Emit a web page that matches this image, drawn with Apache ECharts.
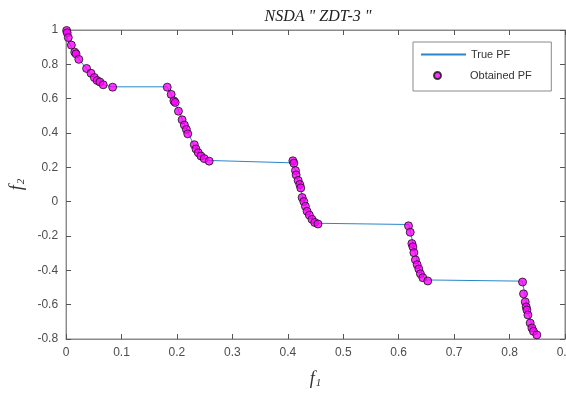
<!DOCTYPE html>
<html>
<head>
<meta charset="utf-8">
<script src="https://cdn.jsdelivr.net/npm/echarts@6/dist/echarts.min.js"></script>
<style>
  html, body { margin: 0; padding: 0; overflow: hidden; background: #fff; }
  #main { width: 600px; height: 394px; }
</style>
</head>
<body>
<div id="main"></div>
<script>
// valores
var xTicks = [0, 0.1, 0.2, 0.3, 0.4, 0.5, 0.6, 0.7, 0.8, 0.9];
var yTicks = [-0.8, -0.6, -0.4, -0.2, 0, 0.2, 0.4, 0.6, 0.8, 1];

// frente de Pareto verdadero (linea azul)
var truePF = [
  [0, 1], [0.001, 0.968], [0.003, 0.945], [0.005, 0.928], [0.01, 0.897], [0.02, 0.847],
  [0.03, 0.802], [0.04, 0.762], [0.05, 0.726], [0.06, 0.698], [0.07, 0.679], [0.083, 0.669],
  [0.182, 0.669], [0.19, 0.623], [0.2, 0.553], [0.21, 0.477], [0.22, 0.402], [0.23, 0.334],
  [0.24, 0.282], [0.25, 0.250], [0.258, 0.240],
  [0.410, 0.226], [0.415, 0.165], [0.42, 0.105], [0.425, 0.048], [0.43, -0.004], [0.44, -0.082],
  [0.45, -0.121], [0.454, -0.126],
  [0.618, -0.133], [0.622, -0.185], [0.625, -0.233], [0.63, -0.303], [0.635, -0.363],
  [0.64, -0.409], [0.645, -0.440], [0.65, -0.456], [0.6525, -0.459],
  [0.823, -0.463], [0.826, -0.511], [0.83, -0.583], [0.835, -0.658], [0.84, -0.715],
  [0.845, -0.754], [0.85, -0.772], [0.852, -0.774]
];

// soluciones obtenidas (puntos magenta)
var obtainedPF = [
  [0.001, 0.997], [0.002, 0.984], [0.004, 0.956], [0.0095, 0.912], [0.0156, 0.871],
  [0.018, 0.861], [0.023, 0.829], [0.037, 0.776], [0.045, 0.748], [0.051, 0.723],
  [0.056, 0.706], [0.061, 0.697], [0.067, 0.681], [0.084, 0.667],
  [0.1825, 0.667], [0.1896, 0.625], [0.1945, 0.587], [0.1968, 0.578], [0.2027, 0.527],
  [0.2093, 0.477], [0.2134, 0.446], [0.217, 0.421], [0.2195, 0.395], [0.2313, 0.332],
  [0.2343, 0.307], [0.2385, 0.285], [0.2433, 0.266], [0.2492, 0.251], [0.2581, 0.236],
  [0.4091, 0.238], [0.4109, 0.224], [0.4138, 0.181], [0.415, 0.156], [0.4186, 0.124],
  [0.4216, 0.100], [0.4234, 0.080], [0.4258, 0.024], [0.4288, 0.001], [0.4317, -0.027],
  [0.4347, -0.056], [0.4388, -0.078], [0.4436, -0.103], [0.4485, -0.121], [0.4544, -0.130],
  [0.6177, -0.141], [0.6208, -0.178], [0.6238, -0.244], [0.6256, -0.263], [0.6274, -0.297],
  [0.6302, -0.339], [0.6333, -0.367], [0.6363, -0.392], [0.6392, -0.420], [0.6435, -0.443],
  [0.6524, -0.462],
  [0.8234, -0.468], [0.8252, -0.537], [0.8283, -0.584], [0.830, -0.613], [0.8313, -0.631],
  [0.8331, -0.660], [0.8372, -0.707], [0.8403, -0.736], [0.8431, -0.755], [0.8492, -0.776]
];

var chart = echarts.init(document.getElementById('main'));

var colorLinea = '#2a86c8';
var ejeTexto = { color: '#4d4d4d', fontSize: 12, fontFamily: 'Liberation Sans' };
var textoLeyenda = { color: '#333', fontSize: 11, fontFamily: 'Liberation Sans' };
var nombreEje = {
  rich: {
    f: { fontFamily: 'Liberation Serif', fontStyle: 'italic', fontSize: 18, color: '#333' },
    s: { fontFamily: 'Liberation Serif', fontStyle: 'italic', fontSize: 11, color: '#333', verticalAlign: 'bottom', padding: [8, 0, 0, 1] }
  }
};
var lineaEje = { onZero: false, lineStyle: { color: '#8a8a8a' } };
var ticks = { inside: true, length: 5, lineStyle: { color: '#555' } };

var option = {
  animation: false,
  title: {
    text: 'NSDA " ZDT-3 "',
    left: 313,
    top: 4,
    textAlign: 'center',
    textStyle: { fontFamily: 'Liberation Serif', fontStyle: 'italic', fontWeight: 'normal', fontSize: 16, color: '#222' }
  },
  grid: { left: 62, top: 30, width: 503, height: 318, show: true, borderColor: '#8a8a8a', borderWidth: 1 },
  // dos leyendas: la primera dibuja el recuadro y la linea, la segunda el marcador
  legend: [
    {
      orient: 'vertical',
      left: 413,
      top: 42,
      padding: [7, 41, 31, 7],
      itemWidth: 45,
      itemHeight: 1,
      backgroundColor: '#fff',
      borderColor: '#8a8a8a',
      borderWidth: 1,
      textStyle: textoLeyenda,
      data: ['True PF']
    },
    {
      orient: 'vertical',
      left: 433,
      top: 70,
      padding: 0,
      itemWidth: 45,
      itemHeight: 7,
      textStyle: Object.assign({ padding: [0, 0, 0, 5] }, textoLeyenda),
      data: ['Obtained PF'],
      z: 5
    }
  ],
  xAxis: [
    {
      type: 'value', min: xTicks[0], max: xTicks[xTicks.length - 1], interval: 0.1,
      name: '{f|f}{s|1}', nameLocation: 'middle', nameGap: 31, nameTextStyle: nombreEje,
      axisLine: lineaEje, axisTick: ticks,
      axisLabel: Object.assign({ margin: 8 }, ejeTexto),
      splitLine: { show: false }
    },
    {
      type: 'value', position: 'top', min: xTicks[0], max: xTicks[xTicks.length - 1], interval: 0.1,
      axisLine: lineaEje, axisTick: ticks,
      axisLabel: { show: false },
      splitLine: { show: false }
    }
  ],
  yAxis: [
    {
      type: 'value', min: yTicks[0], max: yTicks[yTicks.length - 1], interval: 0.2,
      name: '{f|f}{s|2}', nameLocation: 'middle', nameGap: 32, nameRotate: 90, nameTextStyle: nombreEje,
      axisLine: lineaEje, axisTick: ticks,
      axisLabel: Object.assign({ margin: 8 }, ejeTexto),
      splitLine: { show: false }
    },
    {
      type: 'value', position: 'right', min: yTicks[0], max: yTicks[yTicks.length - 1], interval: 0.2,
      axisLine: lineaEje, axisTick: ticks,
      axisLabel: { show: false },
      splitLine: { show: false }
    }
  ],
  series: [
    {
      name: 'True PF',
      type: 'line',
      data: truePF,
      showSymbol: false,
      symbol: 'none',
      lineStyle: { color: colorLinea, width: 1 },
      itemStyle: { color: colorLinea },
      z: 2
    },
    {
      name: 'Obtained PF',
      type: 'scatter',
      data: obtainedPF,
      symbol: 'circle',
      symbolSize: 8,
      itemStyle: { color: '#ff00ff', borderColor: '#111', borderWidth: 1 },
      z: 3
    }
  ]
};

chart.setOption(option);
</script>
</body>
</html>
